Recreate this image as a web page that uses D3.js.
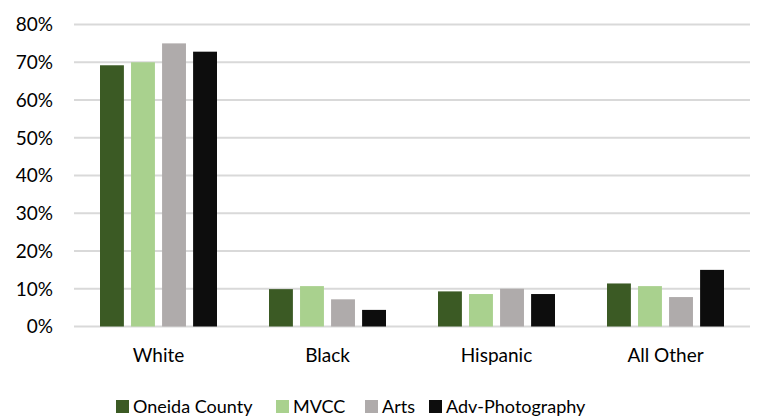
<!DOCTYPE html>
<html>
<head>
<meta charset="utf-8">
<script src="https://cdn.jsdelivr.net/npm/d3@7"></script>
<style>
  body { margin: 0; background: #fff; }
  svg text { font-family: Lato, "Liberation Sans", sans-serif; fill: #000; }
</style>
</head>
<body>
<div id="chart"></div>
<script>
var categories = ["White", "Black", "Hispanic", "All Other"];
var seriesNames = ["Oneida County", "MVCC", "Arts", "Adv-Photography"];
var seriesColors = ["#3b5a24", "#a9d18e", "#afabab", "#0d0d0d"];
var oneida = [69.2, 9.9, 9.3, 11.4];
var mvcc = [70.0, 10.7, 8.6, 10.7];
var arts = [75.0, 7.2, 10.0, 7.8];
var advPhoto = [72.8, 4.4, 8.6, 15.0];
var yTicks = [0, 10, 20, 30, 40, 50, 60, 70, 80];

var seriesValues = [oneida, mvcc, arts, advPhoto];

var width = 759, height = 417;
var margin = {top: 24, right: 9, bottom: 91, left: 74};

var svg = d3.select("#chart").append("svg")
    .attr("width", width)
    .attr("height", height);

var x = d3.scaleBand()
    .domain(categories)
    .range([margin.left, width - margin.right]);

// bars inside one category
var xInner = d3.scaleBand()
    .domain(seriesNames)
    .range([0, 117])
    .paddingInner(0.23);

var y = d3.scaleLinear()
    .domain([0, 80])
    .range([height - margin.bottom + 0.5, margin.top + 0.5]);

// gridlines
svg.append("g")
    .selectAll("line")
    .data(yTicks)
    .enter().append("line")
    .attr("x1", margin.left)
    .attr("x2", width - margin.right)
    .attr("y1", function(d) { return y(d); })
    .attr("y2", function(d) { return y(d); })
    .attr("stroke", "#d9d9d9")
    .attr("stroke-width", 2);

// y labels
svg.append("g")
    .selectAll("text")
    .data(yTicks)
    .enter().append("text")
    .attr("x", 53)
    .attr("y", function(d) { return y(d); })
    .attr("dy", "0.36em")
    .attr("text-anchor", "end")
    .style("font-size", "19px")
    .text(function(d) { return d + "%"; });

// bars
var groups = svg.append("g")
    .selectAll("g")
    .data(categories)
    .enter().append("g")
    .attr("transform", function(d) {
        return "translate(" + (x(d) + x.bandwidth() / 2 - 58.5) + ",0)";
    });

groups.selectAll("rect")
    .data(function(d, i) {
        return seriesNames.map(function(s, j) {
            return {series: s, value: seriesValues[j][i], color: seriesColors[j]};
        });
    })
    .enter().append("rect")
    .attr("x", function(d) { return xInner(d.series); })
    .attr("width", xInner.bandwidth())
    .attr("y", function(d) { return y(d.value); })
    .attr("height", function(d) { return y(0) - y(d.value); })
    .attr("fill", function(d) { return d.color; });

// category labels
svg.append("g")
    .selectAll("text")
    .data(categories)
    .enter().append("text")
    .attr("x", function(d) { return x(d) + x.bandwidth() / 2; })
    .attr("y", 362)
    .attr("text-anchor", "middle")
    .style("font-size", "19px")
    .text(function(d) { return d; });

// legend
var legendX = [116, 276, 365, 429];
var legend = svg.append("g")
    .selectAll("g")
    .data(seriesNames)
    .enter().append("g")
    .attr("transform", function(d, i) { return "translate(" + legendX[i] + ",400)"; });

legend.append("rect")
    .attr("width", 13)
    .attr("height", 13)
    .attr("fill", function(d, i) { return seriesColors[i]; });

legend.append("text")
    .attr("x", 17)
    .attr("y", 13)
    .style("font-size", "18px")
    .text(function(d) { return d; });
</script>
</body>
</html>
